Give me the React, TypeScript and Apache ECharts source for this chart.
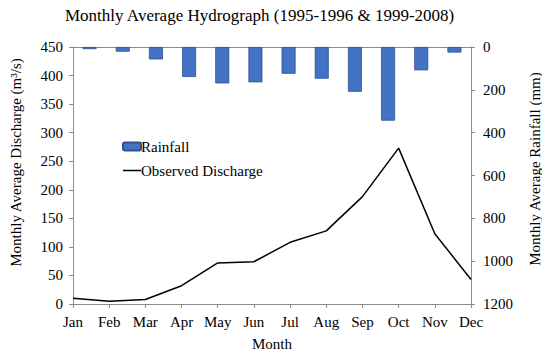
import React, { useEffect, useRef } from "react";
import * as echarts from "echarts";

const months = ["Jan", "Feb", "Mar", "Apr", "May", "Jun", "Jul", "Aug", "Sep", "Oct", "Nov", "Dec"];
const rainfall = [10, 22, 58, 140, 170, 165, 125, 148, 209, 344, 109, 26];
const discharge = [10, 5, 8, 32, 72, 74, 108, 128, 188, 273, 123, 43];

const FONT = "'Liberation Serif', 'Times New Roman', serif";
const AXIS_COLOR = "#8c8c8c";
const FS = 15;

export default function App() {
  const ref = useRef<HTMLDivElement>(null);
  useEffect(() => {
    if (!ref.current) return;
    const chart = echarts.init(ref.current, undefined, { renderer: "svg" });
    chart.setOption({
      animation: false,
      backgroundColor: "#ffffff",
      textStyle: { fontFamily: FONT, color: "#000" },
      title: {
        text: "Monthly Average Hydrograph (1995-1996 & 1999-2008)",
        left: 60,
        top: 2,
        textStyle: { fontFamily: FONT, fontSize: 17, fontWeight: "normal", color: "#000" },
      },
      legend: {
        left: 117,
        top: 134,
        orient: "vertical",
        itemGap: 9,
        itemWidth: 18,
        itemHeight: 8,
        textStyle: { fontFamily: FONT, fontSize: FS, color: "#000", padding: [0, 0, 0, -5] },
        data: [
          { name: "Rainfall" },
          {
            name: "Observed Discharge",
            icon: "path://M0,0L0.05,0L0,0.05Z M0,3.25h18v1.5h-18z M18,8L17.95,8L18,7.95Z",
          },
        ],
      },
      grid: { left: 72, right: 78, top: 47, bottom: 54 },
      xAxis: [
        {
          type: "category",
          data: months,
          boundaryGap: false,
          position: "bottom",
          name: "Month",
          nameLocation: "middle",
          nameGap: 32,
          nameTextStyle: { fontFamily: FONT, fontSize: FS, color: "#000" },
          axisLine: { lineStyle: { color: AXIS_COLOR } },
          axisTick: { lineStyle: { color: AXIS_COLOR }, length: 4 },
          axisLabel: { fontFamily: FONT, fontSize: FS, color: "#000", margin: 10 },
        },
        {
          type: "category",
          data: months,
          boundaryGap: true,
          position: "top",
          axisLine: { show: true, lineStyle: { color: AXIS_COLOR } },
          axisTick: { show: false },
          axisLabel: { show: false },
        },
      ],
      yAxis: [
        {
          type: "value",
          min: 0,
          max: 450,
          interval: 50,
          position: "left",
          name: "Monthly Average Discharge (m³/s)",
          nameLocation: "middle",
          nameGap: 50,
          nameTextStyle: { fontFamily: FONT, fontSize: FS, color: "#000", padding: [0, 0, 0, 26] },
          axisLine: { show: true, lineStyle: { color: AXIS_COLOR } },
          axisTick: { show: true, lineStyle: { color: AXIS_COLOR }, length: 4 },
          axisLabel: { fontFamily: FONT, fontSize: FS, color: "#000", margin: 10 },
          splitLine: { show: false },
        },
        {
          type: "value",
          min: 0,
          max: 1200,
          interval: 200,
          inverse: true,
          position: "right",
          name: "Monthly Average Rainfall (mm)",
          nameLocation: "middle",
          nameGap: 56,
          nameRotate: 90,
          nameTextStyle: { fontFamily: FONT, fontSize: FS, color: "#000", padding: [0, 0, 0, 13] },
          axisLine: { show: true, lineStyle: { color: AXIS_COLOR } },
          axisTick: { show: true, lineStyle: { color: AXIS_COLOR }, length: 4 },
          axisLabel: {
            fontFamily: FONT,
            fontSize: FS,
            color: "#000",
            margin: 12,
            formatter: (v: number) => String(v),
          },
          splitLine: { show: false },
        },
      ],
      series: [
        {
          name: "Rainfall",
          type: "bar",
          xAxisIndex: 1,
          yAxisIndex: 1,
          data: rainfall,
          barWidth: 14,
          itemStyle: { color: "#4472C4", borderColor: "#2F528F", borderWidth: 0.8 },
        },
        {
          name: "Observed Discharge",
          type: "line",
          xAxisIndex: 0,
          yAxisIndex: 0,
          data: discharge,
          symbol: "none",
          lineStyle: { color: "#000", width: 1.5 },
          itemStyle: { color: "#000" },
        },
      ],
    });
    return () => chart.dispose();
  }, []);
  return <div ref={ref} style={{ width: 550, height: 358, margin: -8 }} />;
}
